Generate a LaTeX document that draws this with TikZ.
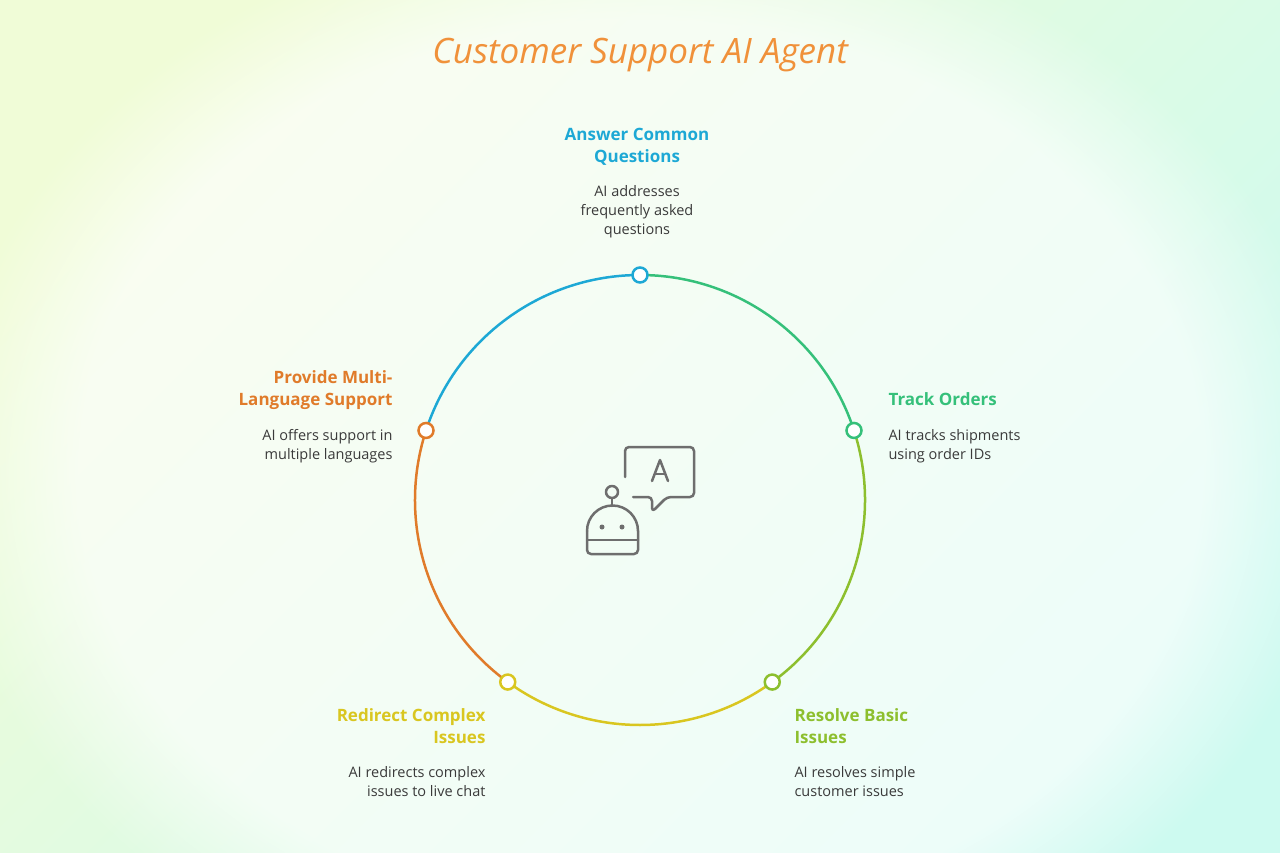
\documentclass[tikz,border=0pt]{standalone}
\usepackage{fontspec}
\setmainfont{Open Sans}
\usetikzlibrary{calc,fadings}
\definecolor{cBlue}{HTML}{1DA8D5}
\definecolor{cGreen}{HTML}{35C07A}
\definecolor{cLime}{HTML}{8DBF2E}
\definecolor{cYellow}{HTML}{D9C620}
\definecolor{cOrange}{HTML}{E07B2A}
\definecolor{cTitle}{HTML}{F0913A}
\definecolor{cText}{HTML}{3A3A3A}
\definecolor{cIcon}{HTML}{6E6E6E}
\tikzset{
  head/.style={font=\fontsize{17}{22}\selectfont\bfseries},
  desc/.style={font=\fontsize{14.5}{19}\selectfont, text=cText},
  mark/.style={circle, draw=#1, fill=white, line width=2.5pt, minimum size=15pt, inner sep=0pt},
  ring/.style={draw=#1, line width=2.5pt}
}
\begin{document}
\begin{tikzpicture}[x=1pt,y=-1pt]
\useasboundingbox (0,0) rectangle (1280,853);
\shade[shading=axis, top color={rgb,255:red,240;green,252;blue,215}, middle color=white,
  bottom color={rgb,255:red,205;green,250;blue,240}, shading angle=45] (0,0) rectangle (1280,853);
\fill[white, path fading=circle with fuzzy edge 20 percent, fill opacity=0.65] (640,470) ellipse[x radius=700, y radius=560];
\node (title) at (640,55) {\fontsize{35}{40}\selectfont\itshape\color{cTitle}Customer Support AI Agent};
% ring and markers (y axis points down, so angles are negated)
\coordinate (c) at (640,500);
\coordinate (pA) at ($(c)+(-90:225)$);
\coordinate (pT) at ($(c)+(-18:225)$);
\coordinate (pR) at ($(c)+(54:225)$);
\coordinate (pD) at ($(c)+(126:225)$);
\coordinate (pM) at ($(c)+(-162:225)$);
\draw[ring=cBlue] (pM) arc[start angle=-162, end angle=-90, radius=225];
\draw[ring=cGreen] (pA) arc[start angle=-90, end angle=-18, radius=225];
\draw[ring=cLime] (pT) arc[start angle=-18, end angle=54, radius=225];
\draw[ring=cYellow] (pR) arc[start angle=54, end angle=126, radius=225];
\draw[ring=cOrange] (pD) arc[start angle=126, end angle=198, radius=225];
\node[mark=cBlue] (mA) at (pA) {};
\node[mark=cGreen] (mT) at (pT) {};
\node[mark=cLime] (mR) at (pR) {};
\node[mark=cYellow] (mD) at (pD) {};
\node[mark=cOrange] (mM) at (pM) {};
% labels
\node[head, text=cBlue, align=center] (hA) at (637,147) {Answer Common\\Questions};
\node[desc, align=center] (dA) at (637,212) {AI addresses\\frequently asked\\questions};
\node[head, text=cGreen, anchor=west] (hT) at (885,399) {Track Orders};
\node[desc, align=left, anchor=west] (dT) at (885,446) {AI tracks shipments\\using order IDs};
\node[head, text=cOrange, align=right, anchor=east] (hM) at (396,390) {Provide Multi-\\Language Support};
\node[desc, align=right, anchor=east] (dM) at (396,446) {AI offers support in\\multiple languages};
\node[head, text=cYellow, align=right, anchor=east] (hD) at (489,726) {Redirect Complex\\Issues};
\node[desc, align=right, anchor=east] (dD) at (489,782) {AI redirects complex\\issues to live chat};
\node[head, text=cLime, align=left, anchor=west] (hR) at (791,726) {Resolve Basic\\Issues};
\node[desc, align=left, anchor=west] (dR) at (791,782) {AI resolves simple\\customer issues};
% robot icon
\begin{scope}[draw=cIcon, line width=2.5pt, line join=round, line cap=round]
\draw[rounded corners=4pt] (625,477) -- (625,447) -- (694,447) -- (694,497) -- (667,497) -- (652,512) -- (652,497) -- (633,497);
\draw (652,481) -- (660,460) -- (668,481);
\draw (655,474) -- (665,474);
\draw (612,492) circle[radius=6];
\draw (612,498) -- (612,506);
\draw (587,531) arc[start angle=180, end angle=360, radius=25.5];
\draw[rounded corners=4pt] (587,531) -- (587,554) -- (638,554) -- (638,531);
\draw (587,540) -- (638,540);
\fill[cIcon] (602,527) circle[radius=2.5];
\fill[cIcon] (622,527) circle[radius=2.5];
\end{scope}
\end{tikzpicture}
\end{document}
